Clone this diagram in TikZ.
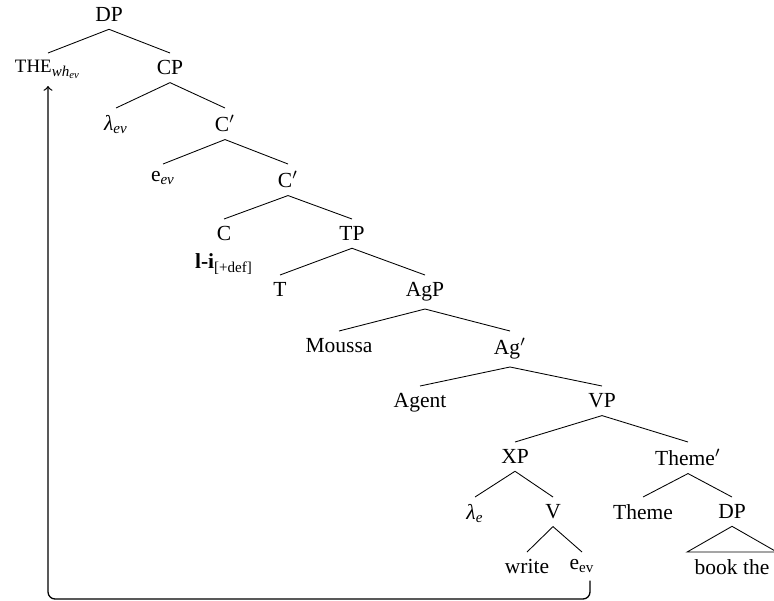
\documentclass[tikz,border=0pt]{standalone}
\usepackage{fontspec}
\setmainfont{Liberation Serif}
\begin{document}
\begin{tikzpicture}[x=0.4651pt,y=-0.4651pt,
  tn/.style={anchor=north,inner sep=3.33pt,align=center},
  edge/.style={line width=0.4pt},
  move/.style={semithick,->,rounded corners=3.3pt}]
\useasboundingbox (0,0) rectangle (774,600);
% nodes
\node[tn] (dp) at (109,0) {DP};
\node[tn] (the) at (48,53) {{\fontsize{8.8}{10}\selectfont THE}\textsubscript{\itshape wh\textsubscript{ev}}};
\node[tn] (cp) at (170,53) {CP};
\node[tn] (lamev) at (116,108) {{\itshape λ}\textsubscript{\itshape ev}};
\node[tn] (cbar1) at (225,108) {C$'$};
\node[tn] (eev1) at (163,164) {e\textsubscript{\itshape ev}};
\node[tn] (cbar2) at (288,164) {C$'$};
\node[tn] (c) at (224,219) {C\\[1pt]\textbf{l-i}\textsubscript{[+def]}};
\node[tn] (tp) at (352,219) {TP};
\node[tn] (t) at (280,275) {T};
\node[tn] (agp) at (425,275) {AgP};
\node[tn] (moussa) at (339,331) {Moussa};
\node[tn] (agbar) at (510,331) {Ag$'$};
\node[tn] (agent) at (420,386) {Agent};
\node[tn] (vp) at (602,386) {VP};
\node[tn] (xp) at (515,442) {XP};
\node[tn] (themebar) at (688,442) {Theme$'$};
\node[tn] (lame) at (475,497) {{\itshape λ}\textsubscript{\itshape e}};
\node[tn] (v) at (553,497) {V};
\node[tn] (theme) at (643,497) {Theme};
\node[tn] (dp2) at (732,497) {DP};
\node[tn] (write) at (527,552) {write};
\node[tn] (eev2) at (582,552) {e\textsubscript{ev}};
\node[tn] (book) at (732,552) {book the};
% edges
\draw[edge] (the.north) -- (dp.south) -- (cp.north);
\draw[edge] (lamev.north) -- (cp.south) -- (cbar1.north);
\draw[edge] (eev1.north) -- (cbar1.south) -- (cbar2.north);
\draw[edge] (c.north) -- (cbar2.south) -- (tp.north);
\draw[edge] (t.north) -- (tp.south) -- (agp.north);
\draw[edge] (moussa.north) -- (agp.south) -- (agbar.north);
\draw[edge] (agent.north) -- (agbar.south) -- (vp.north);
\draw[edge] (xp.north) -- (vp.south) -- (themebar.north);
\draw[edge] (lame.north) -- (xp.south) -- (v.north);
\draw[edge] (theme.north) -- (themebar.south) -- (dp2.north);
\draw[edge] (write.north) -- (v.south) -- (eev2.north);
\draw[edge] (book.north west) -- (dp2.south) -- (book.north east) -- cycle;
% movement
\coordinate (hook) at (590,0);
\coordinate (floor) at (0,599);
\draw[move] (eev2.south -| hook) |- (floor -| the.south) -- (the.south);
\end{tikzpicture}
\end{document}
